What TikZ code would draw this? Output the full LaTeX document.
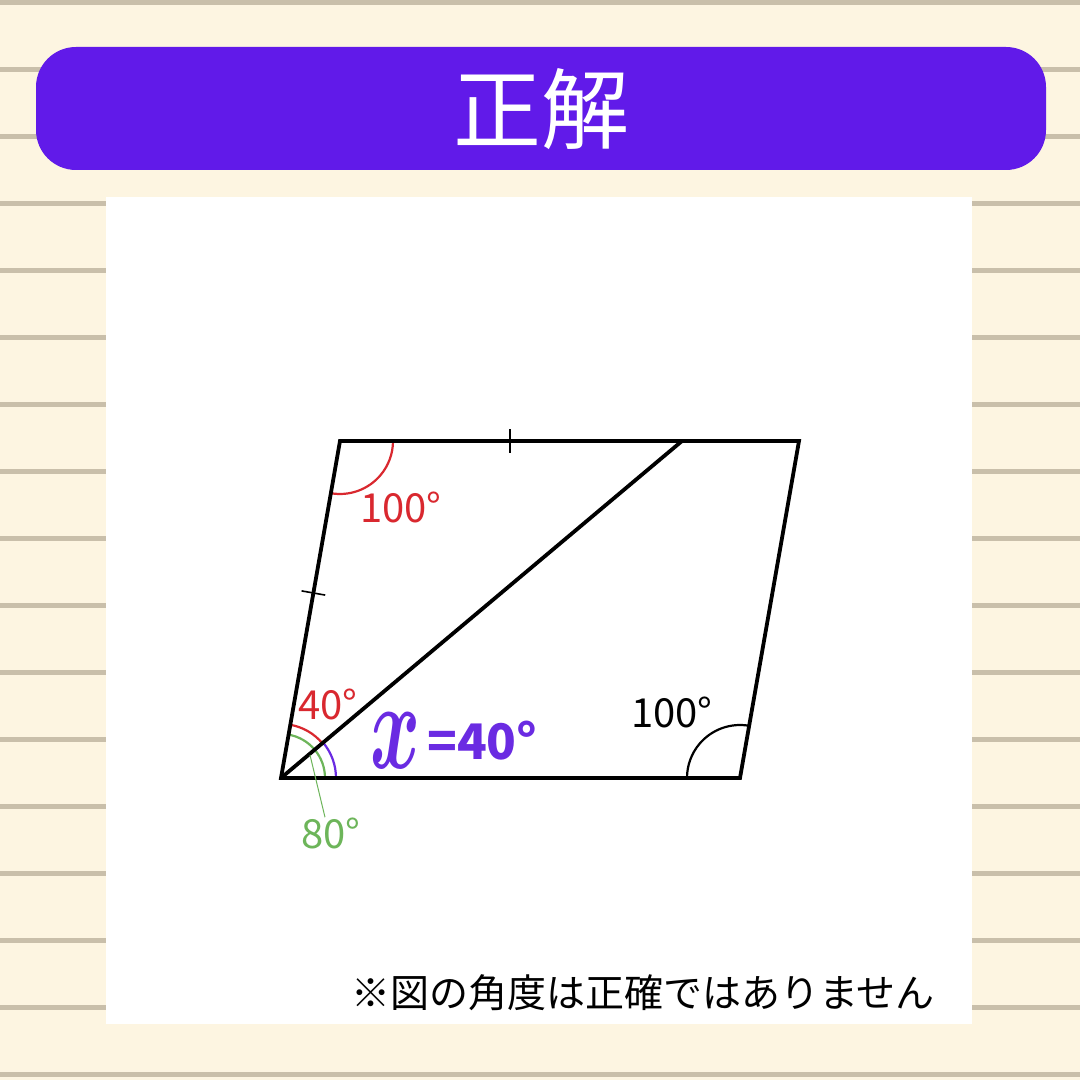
\documentclass[tikz,border=0pt]{standalone}
\usepackage{bm}
\usepackage{fontspec}
\setmainfont{Noto Sans CJK JP}
\usetikzlibrary{calc}
\definecolor{cream}{HTML}{FDF5E1}
\definecolor{ruleln}{HTML}{C9BFAA}
\definecolor{banner}{HTML}{611AE9}
\definecolor{angred}{HTML}{D9282F}
\definecolor{anggreen}{HTML}{6DB55A}
\definecolor{angpurple}{HTML}{6A2BE2}
\tikzset{
  edge/.style={line width=3.8pt, line join=miter},
  arcline/.style={line width=2.2pt},
  lbl/.style={inner sep=0pt, font=\fontsize{40}{44}\selectfont},
  tickmark/.style={line width=1.6pt},
}
\begin{document}
\begin{tikzpicture}[x=1pt,y=1pt]
\useasboundingbox (0,0) rectangle (1080,1080);
\fill[cream] (0,0) rectangle (1080,1080);
\foreach \k in {0,...,16} {
  \fill[ruleln] (0,{1080-3-67*\k-2.5}) rectangle (1080,{1080-3-67*\k+2.5});
}
% banner
\fill[banner, rounded corners=40pt] (36,910) rectangle (1046,1033);
\node[text=white, inner sep=0pt, font=\fontsize{88}{90}\selectfont] (title) at (541,971) {正解};
% white panel
\fill[white] (106,56) rectangle (972,883);
% vertices
\coordinate (A) at (281,302);
\coordinate (B) at (740,302);
\coordinate (C) at (799,639);
\coordinate (D) at (340,639);
\coordinate (E) at (682,639);
% angle marks
\draw[angred, arcline] (D) ++(-99.93:53) arc[start angle=-99.93, end angle=0, radius=53];
\draw[black, arcline] (B) ++(80.07:53) arc[start angle=80.07, end angle=180, radius=53];
\draw[anggreen, arcline] (A) ++(0:44) arc[start angle=0, end angle=80.07, radius=44];
\draw[angred, arcline] (A) ++(40.04:54) arc[start angle=40.04, end angle=80.07, radius=54];
\draw[angpurple, arcline] (A) ++(0:55) arc[start angle=0, end angle=40.04, radius=55];
% parallelogram and diagonal
\draw[edge] (A) -- (B) -- (C) -- (D) -- cycle;
\draw[edge] (A) -- (E);
% ticks
\coordinate (t1) at (510,639);
\draw[tickmark] ($(t1)+(0,-12)$) -- ($(t1)+(0,12)$);
\coordinate (t2) at (313.4,487);
\draw[tickmark] ($(t2)+(-11.8,2.1)$) -- ($(t2)+(11.8,-2.1)$);
% labels
\node[lbl, text=angred] (l100a) at (401,573) {100°};
\node[lbl, text=black] (l100b) at (672,368) {100°};
\node[lbl, text=angred] (l40) at (328,376) {40°};
\node[lbl, text=anggreen] (l80) at (331,247) {80°};
\coordinate (g1) at (310,325);
\draw[anggreen, line width=1pt] (g1) -- (l80.north -| 325,0);
\node[inner sep=0pt, text=angpurple, xscale=7.6, yscale=12.5] (xv) at (396,339) {$\bm{x}$};
\node[inner sep=0pt, text=angpurple, anchor=base west, font=\fontsize{49}{49}\selectfont\bfseries] (xval) at (427,320) {=40°};
% footnote
\node[inner sep=0pt, font=\fontsize{39}{40}\selectfont] (note) at (643,87) {※図の角度は正確ではありません};
\end{tikzpicture}
\end{document}
